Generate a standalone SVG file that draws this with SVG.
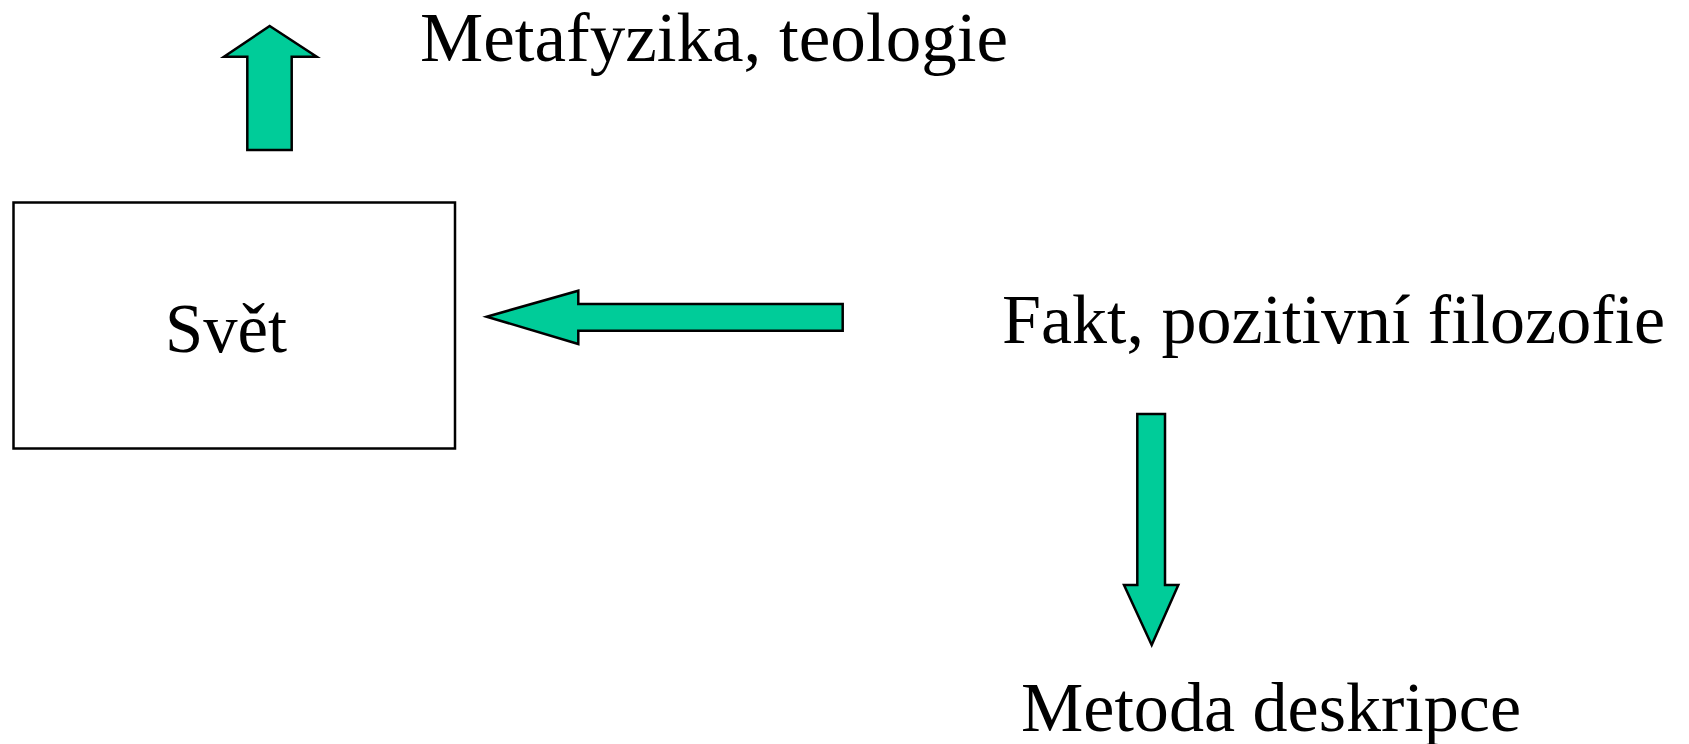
<svg xmlns="http://www.w3.org/2000/svg" width="1689" height="744" viewBox="0 0 1689 744">
<style>
.arrow{fill:#00CC99;stroke:#000;stroke-width:2.5;stroke-linejoin:miter}
.lbl{font-family:"Liberation Serif","Times New Roman",serif;font-size:70px;fill:#000}
</style>
<rect width="1689" height="744" fill="#fff"/>
<g id="svet">
<rect x="13.5" y="202.5" width="441.5" height="246" fill="#fff" stroke="#000" stroke-width="2.5"/>
<text class="lbl" x="165" y="351.5" textLength="122" lengthAdjust="spacingAndGlyphs">Svět</text>
</g>
<g id="metafyzika">
<text class="lbl" x="420" y="61" textLength="588" lengthAdjust="spacingAndGlyphs">Metafyzika, teologie</text>
</g>
<g id="fakt">
<text class="lbl" x="1002" y="343" textLength="663" lengthAdjust="spacingAndGlyphs">Fakt, pozitivní filozofie</text>
</g>
<g id="metoda">
<text class="lbl" x="1021" y="731" textLength="500" lengthAdjust="spacingAndGlyphs">Metoda deskripce</text>
</g>
<g id="connectors">
<polygon class="arrow" points="269.7,26 316.7,56.7 291.7,56.7 291.7,150 247.3,150 247.3,56.7 224,56.7"/>
<polygon class="arrow" points="486.7,316.7 578.3,290.7 578.3,304 842.7,304 842.7,330.7 578.3,330.7 578.3,344"/>
<polygon class="arrow" points="1137.3,414 1165,414 1165,585 1178.3,585 1151.7,645 1124,585 1137.3,585"/>
</g>
</svg>
